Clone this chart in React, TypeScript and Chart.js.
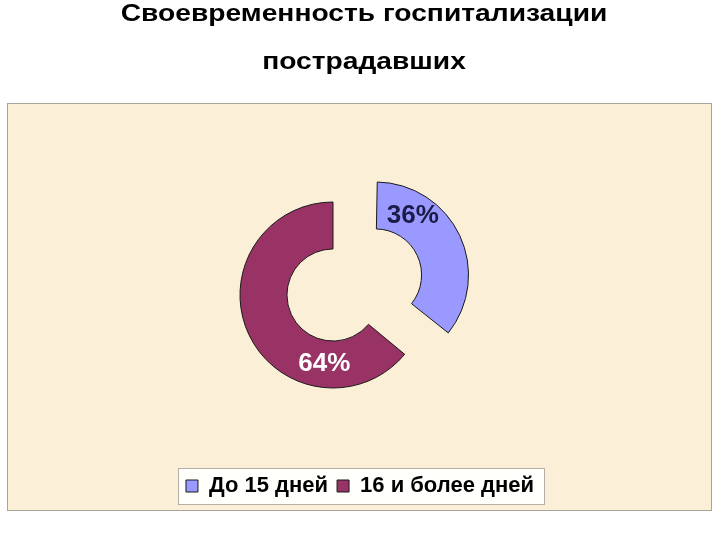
import React, { useEffect, useRef } from 'react';
import { Chart, registerables } from 'chart.js';

Chart.register(...registerables);

// ---- data ----
const categories = ['До 15 дней', '16 и более дней'];
const values = [36, 64];
const sliceColors = ['#9999FF', '#993366'];
const labelColors = ['#1B1B48', '#FFFFFF'];
const explodePx = [47, 0];
const titleLines = ['Своевременность госпитализации', 'пострадавших'];

// ---- layout / style constants ----
const FONT = '"Liberation Sans", Arial, Helvetica, sans-serif';
const SHIFT_X = -27;
const LABEL_POS = 0.25;
const TITLE_SIZE = 23.5;
const TITLE_STRETCH = 1.2;
const TITLE_Y = [15, 63];

const decorPlugin = {
  id: 'decor',
  beforeDraw(chart: any) {
    const ctx = chart.ctx;
    ctx.save();
    // title (horizontally stretched like the original slide)
    ctx.fillStyle = '#000000';
    ctx.font = `bold ${TITLE_SIZE}px ${FONT}`;
    ctx.textAlign = 'center';
    ctx.textBaseline = 'middle';
    titleLines.forEach((line, i) => {
      ctx.save();
      ctx.translate(chart.width / 2 + 4, TITLE_Y[i]);
      ctx.scale(TITLE_STRETCH, 1);
      ctx.fillText(line, 0, 0);
      ctx.restore();
    });
    // beige panel
    ctx.fillStyle = '#FBF0D7';
    ctx.fillRect(7, 103, chart.width - 15, 408);
    ctx.strokeStyle = '#A9A49A';
    ctx.lineWidth = 1;
    ctx.strokeRect(7.5, 103.5, chart.width - 16, 407);
    // legend frame
    const hb = chart.legend && chart.legend.legendHitBoxes;
    if (hb && hb.length) {
      let l = Infinity, r = -Infinity, t = Infinity, b = -Infinity;
      for (const h of hb) {
        l = Math.min(l, h.left);
        r = Math.max(r, h.left + h.width);
        t = Math.min(t, h.top);
        b = Math.max(b, h.top + h.height);
      }
      const x0 = Math.round(l - 8) + 0.5;
      const y0 = Math.round(t - 7) + 0.5;
      const x1 = Math.round(r + 10) + 0.5;
      const y1 = Math.round(b + 7) + 0.5;
      ctx.fillStyle = '#FFFFFC';
      ctx.fillRect(x0, y0, x1 - x0, y1 - y0);
      ctx.strokeStyle = '#B4B0A8';
      ctx.strokeRect(x0, y0, x1 - x0, y1 - y0);
    }
    ctx.restore();
  },
  afterDatasetsUpdate(chart: any) {
    const meta = chart.getDatasetMeta(0);
    meta.data.forEach((arc: any) => {
      const off = (arc.options.offset || 0) / 4;
      const circ = arc.endAngle - arc.startAngle;
      const fix = 1 - Math.sin(Math.min(Math.PI, circ));
      const ro = off * fix;
      arc.$r0 = { outer: arc.outerRadius, inner: arc.innerRadius };
      arc.outerRadius = arc.outerRadius - ro;
      arc.innerRadius = arc.innerRadius - ro;
    });
  },
  beforeDatasetsDraw(chart: any) {
    chart.ctx.save();
    chart.ctx.translate(SHIFT_X, 0);
  },
  afterDatasetsDraw(chart: any) {
    const ctx = chart.ctx;
    const meta = chart.getDatasetMeta(0);
    const data = chart.data.datasets[0].data as number[];
    const total = data.reduce((s, v) => s + v, 0);
    ctx.font = `bold 26px ${FONT}`;
    ctx.textAlign = 'center';
    ctx.textBaseline = 'middle';
    meta.data.forEach((arc: any, i: number) => {
      const { x, y, startAngle, endAngle } = arc;
      const outer = arc.$r0 ? arc.$r0.outer : arc.outerRadius;
      const inner = arc.$r0 ? arc.$r0.inner : arc.innerRadius;
      const off = (arc.options.offset || 0) / 4;
      const half = (startAngle + endAngle) / 2;
      const cx = x + Math.cos(half) * off;
      const cy = y + Math.sin(half) * off;
      const a = startAngle + LABEL_POS * (endAngle - startAngle);
      const r = (outer + inner) / 2;
      ctx.fillStyle = labelColors[i];
      ctx.fillText(Math.round((data[i] / total) * 100) + '%', cx + Math.cos(a) * r, cy + Math.sin(a) * r);
    });
    ctx.restore();
  },
};

export default function App() {
  const ref = useRef<HTMLCanvasElement | null>(null);
  useEffect(() => {
    if (!ref.current) return;
    const chart = new Chart(ref.current, {
      type: 'doughnut',
      data: {
        labels: categories,
        datasets: [
          {
            data: values,
            backgroundColor: sliceColors,
            borderColor: '#1A1A1A',
            borderWidth: 1,
            borderJoinStyle: 'miter',
            offset: explodePx.map((p) => p * 4),
          } as any,
        ],
      },
      options: {
        animation: false,
        responsive: true,
        maintainAspectRatio: false,
        events: [],
        radius: 93,
        cutout: '49.5%',
        layout: { padding: { top: 124, left: 10, right: 10, bottom: 33 } },
        plugins: {
          tooltip: { enabled: false },
          title: { display: false },
          legend: {
            display: true,
            position: 'bottom',
            labels: {
              boxWidth: 12,
              boxHeight: 12,
              padding: 9,
              color: '#000000',
              font: { family: FONT, size: 22, weight: 'bold' },
            },
          },
        },
      } as any,
      plugins: [decorPlugin],
    });
    return () => chart.destroy();
  }, []);
  return (
    <div style={{ position: 'fixed', left: 0, top: 0, width: 720, height: 540, background: '#FFFFFF' }}>
      <canvas ref={ref} />
    </div>
  );
}
